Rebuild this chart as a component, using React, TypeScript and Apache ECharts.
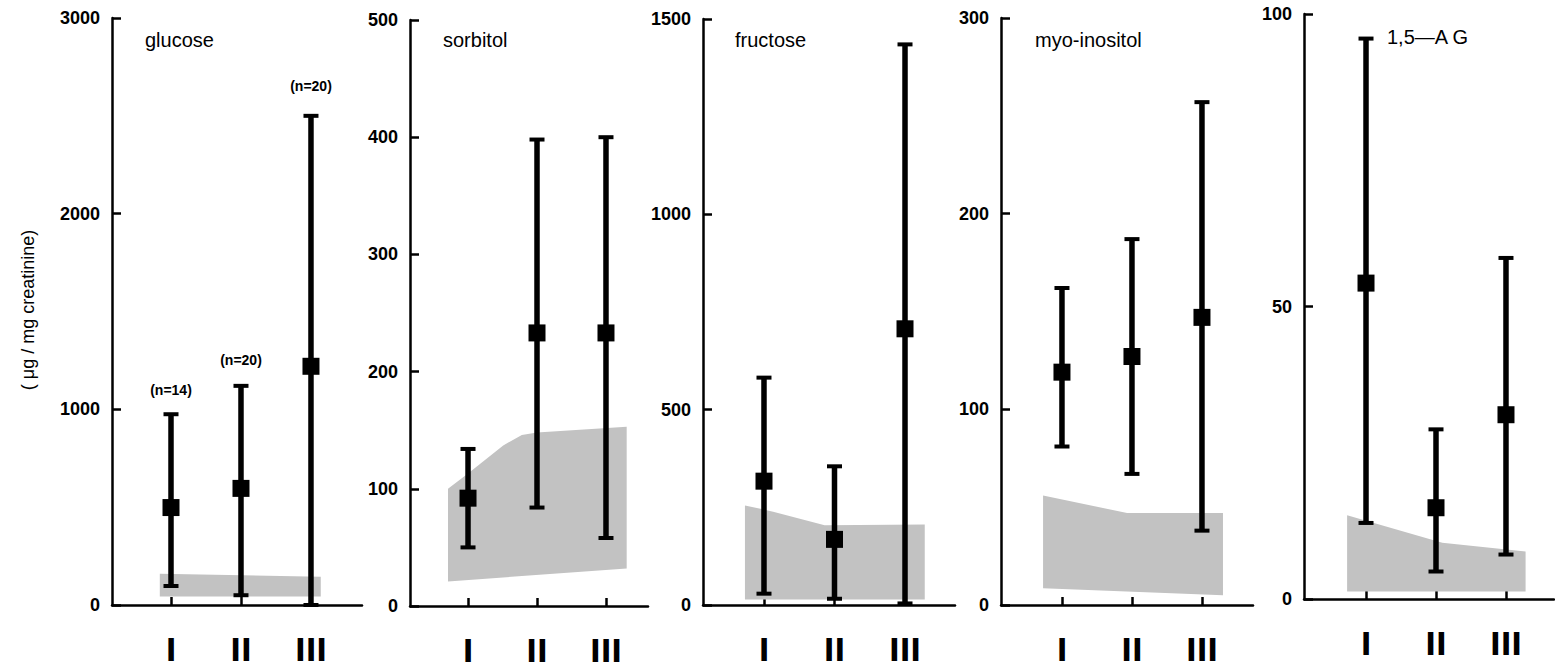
import { useEffect, useRef } from 'react';
import * as echarts from 'echarts';

// ---- categories ----
const categories = ['I', 'II', 'III'];
const catPos = [1, 2, 3];

// ---- glucose (µg/mg creatinine) ----
const glucoseMean = [498, 596, 1220];
const glucoseUpper = [975, 1120, 2500];
const glucoseLower = [97, 50, 0];
const glucoseBandTop = [[0.84, 160], [3.14, 145]];
const glucoseBandBottom = [[0.84, 43], [3.14, 43]];
const glucoseNText = ['(n=14)', '(n=20)', '(n=20)'];
const glucoseNValue = [1100, 1250, 2650];
const glucoseTicks = [0, 3000, 1000];

// ---- sorbitol ----
const sorbitolMean = [92, 233, 233];
const sorbitolUpper = [134, 398, 400];
const sorbitolLower = [50, 84, 58];
const sorbitolBandTop = [[0.71, 100], [1.0, 113], [1.51, 137], [1.78, 146], [2.0, 148], [3.3, 153]];
const sorbitolBandBottom = [[0.71, 21], [3.3, 32]];
const sorbitolTicks = [0, 500, 100];

// ---- fructose ----
const fructoseMean = [317, 168, 707];
const fructoseUpper = [582, 355, 1435];
const fructoseLower = [29, 16, 4];
const fructoseBandTop = [[0.73, 255], [1.13, 239], [1.86, 204], [3.28, 206]];
const fructoseBandBottom = [[0.73, 14], [3.28, 14]];
const fructoseTicks = [0, 1500, 500];

// ---- myo-inositol ----
const myoMean = [119, 127, 147];
const myoUpper = [162, 187, 257];
const myoLower = [81, 67, 38];
const myoBandTop = [[0.73, 56], [1.93, 47], [3.3, 47]];
const myoBandBottom = [[0.73, 8.5], [3.3, 5]];
const myoTicks = [0, 300, 100];

// ---- 1,5-AG ----
const agMean = [54, 15.6, 31.5];
const agUpper = [95.8, 29, 58.3];
const agLower = [13, 4.7, 7.6];
const agBandTop = [[0.73, 14.3], [2.09, 9.6], [3.28, 8.1]];
const agBandBottom = [[0.73, 1.3], [3.28, 1.3]];
const agTicks = [0, 100, 50];

const panelTitles = ['glucose', 'sorbitol', 'fructose', 'myo-inositol', '1,5\u2014A G'];
const yAxisTitle = '( \u03bcg / mg creatinine)';

// ---- layout (pixels) ----
const layout = [
  { left: 112, right: 362, top: 18, bottom: 605, xMin: 0.157, xMax: 3.729, titleX: 145, titleY: 30 },
  { left: 410, right: 648, top: 20, bottom: 606, xMin: 0.159, xMax: 3.609, titleX: 443, titleY: 30 },
  { left: 703, right: 955, top: 19, bottom: 605, xMin: 0.135, xMax: 3.709, titleX: 735, titleY: 30 },
  { left: 1001, right: 1253, top: 18, bottom: 605, xMin: 0.129, xMax: 3.729, titleX: 1035, titleY: 30 },
  { left: 1304, right: 1554, top: 14, bottom: 599, xMin: 0.114, xMax: 3.686, titleX: 1387, titleY: 27 },
];

const FONT = '"Liberation Sans", Arial, Helvetica, sans-serif';

export default function App() {
  const ref = useRef<HTMLDivElement>(null);

  useEffect(() => {
    if (!ref.current) return;
    const chart = echarts.init(ref.current, null, { renderer: 'svg' });

    const panels = [
      { mean: glucoseMean, upper: glucoseUpper, lower: glucoseLower, top: glucoseBandTop, bot: glucoseBandBottom, ticks: glucoseTicks },
      { mean: sorbitolMean, upper: sorbitolUpper, lower: sorbitolLower, top: sorbitolBandTop, bot: sorbitolBandBottom, ticks: sorbitolTicks },
      { mean: fructoseMean, upper: fructoseUpper, lower: fructoseLower, top: fructoseBandTop, bot: fructoseBandBottom, ticks: fructoseTicks },
      { mean: myoMean, upper: myoUpper, lower: myoLower, top: myoBandTop, bot: myoBandBottom, ticks: myoTicks },
      { mean: agMean, upper: agUpper, lower: agLower, top: agBandTop, bot: agBandBottom, ticks: agTicks },
    ];

    const grid: any[] = [];
    const xAxis: any[] = [];
    const yAxis: any[] = [];
    const series: any[] = [];
    const title: any[] = [];

    panels.forEach((p, i) => {
      const L = layout[i];
      grid.push({ left: L.left, top: L.top, width: L.right - L.left, height: L.bottom - L.top, containLabel: false });
      xAxis.push({
        type: 'value', gridIndex: i, min: L.xMin, max: L.xMax,
        splitLine: { show: false },
        axisLine: { show: true, onZero: false, lineStyle: { color: '#000', width: 2.5 } },
        axisTick: { show: true, inside: true, length: 8, customValues: catPos, lineStyle: { color: '#000', width: 2.5 } },
        axisLabel: {
          show: true, customValues: catPos, margin: 29,
          formatter: (v: number) => categories[Math.round(v) - 1] ?? '',
          fontFamily: '"Liberation Sans Narrow", "DejaVu Sans Condensed", ' + FONT,
          fontSize: 32, fontWeight: 'bold', color: '#000',
        },
      });
      yAxis.push({
        type: 'value', gridIndex: i, min: p.ticks[0], max: p.ticks[1], interval: p.ticks[2],
        splitLine: { show: false },
        axisLine: { show: true, lineStyle: { color: '#000', width: 2.5 } },
        axisTick: { show: true, inside: true, length: 9, lineStyle: { color: '#000', width: 2.5 } },
        axisLabel: { fontFamily: FONT, fontSize: 18, fontWeight: 'bold', color: '#000', margin: 12, formatter: (v: number) => String(v) },
      });
      title.push({
        text: panelTitles[i], left: L.titleX, top: L.titleY,
        textStyle: { fontFamily: FONT, fontSize: 20, fontWeight: 'normal', color: '#000' },
        padding: 0,
      });

      // shaded normal range band
      series.push({
        type: 'custom', xAxisIndex: i, yAxisIndex: i, silent: true, z: 1,
        data: [[0]],
        renderItem: (_params: any, api: any) => {
          const pts: number[][] = [];
          p.top.forEach((pt) => pts.push(api.coord(pt)));
          [...p.bot].reverse().forEach((pt) => pts.push(api.coord(pt)));
          return { type: 'polygon', shape: { points: pts }, style: { fill: '#c2c2c2', stroke: null } };
        },
      });

      // error bars
      series.push({
        type: 'custom', xAxisIndex: i, yAxisIndex: i, silent: true, z: 3,
        data: catPos.map((x, k) => [x, p.lower[k], p.upper[k]]),
        renderItem: (_params: any, api: any) => {
          const x = api.value(0);
          const lo = api.coord([x, api.value(1)]);
          const hi = api.coord([x, api.value(2)]);
          const cap = 7.5;
          return {
            type: 'group',
            children: [
              { type: 'line', shape: { x1: hi[0], y1: hi[1], x2: lo[0], y2: lo[1] }, style: { stroke: '#000', lineWidth: 5.5 } },
              { type: 'line', shape: { x1: hi[0] - cap, y1: hi[1], x2: hi[0] + cap, y2: hi[1] }, style: { stroke: '#000', lineWidth: 4 } },
              { type: 'line', shape: { x1: lo[0] - cap, y1: lo[1], x2: lo[0] + cap, y2: lo[1] }, style: { stroke: '#000', lineWidth: 4 } },
            ],
          };
        },
      });

      // means
      series.push({
        type: 'scatter', xAxisIndex: i, yAxisIndex: i, z: 4, silent: true,
        symbol: 'rect', symbolSize: 17,
        itemStyle: { color: '#000', opacity: 1 },
        data: catPos.map((x, k) => [x, p.mean[k]]),
      });
    });

    // n annotations on glucose
    series.push({
      type: 'scatter', xAxisIndex: 0, yAxisIndex: 0, z: 5, silent: true,
      symbolSize: 0,
      itemStyle: { opacity: 1 },
      data: catPos.map((x, k) => ({ value: [x, glucoseNValue[k]], name: glucoseNText[k] })),
      label: {
        show: true, position: 'inside', formatter: (d: any) => d.name,
        fontFamily: FONT, fontSize: 14, fontWeight: 'bold', color: '#000', opacity: 1,
      },
    });

    chart.setOption({
      animation: false,
      backgroundColor: '#fff',
      title,
      grid,
      xAxis,
      yAxis,
      series,
      graphic: [
        {
          type: 'text', x: 28, y: 310, rotation: Math.PI / 2,
          style: { text: yAxisTitle, fontFamily: FONT, fontSize: 18, fill: '#000', align: 'center', verticalAlign: 'middle' },
        },
      ],
    });

    return () => chart.dispose();
  }, []);

  return <div ref={ref} style={{ position: 'absolute', left: 0, top: 0, width: 1555, height: 670, background: '#fff' }} />;
}
